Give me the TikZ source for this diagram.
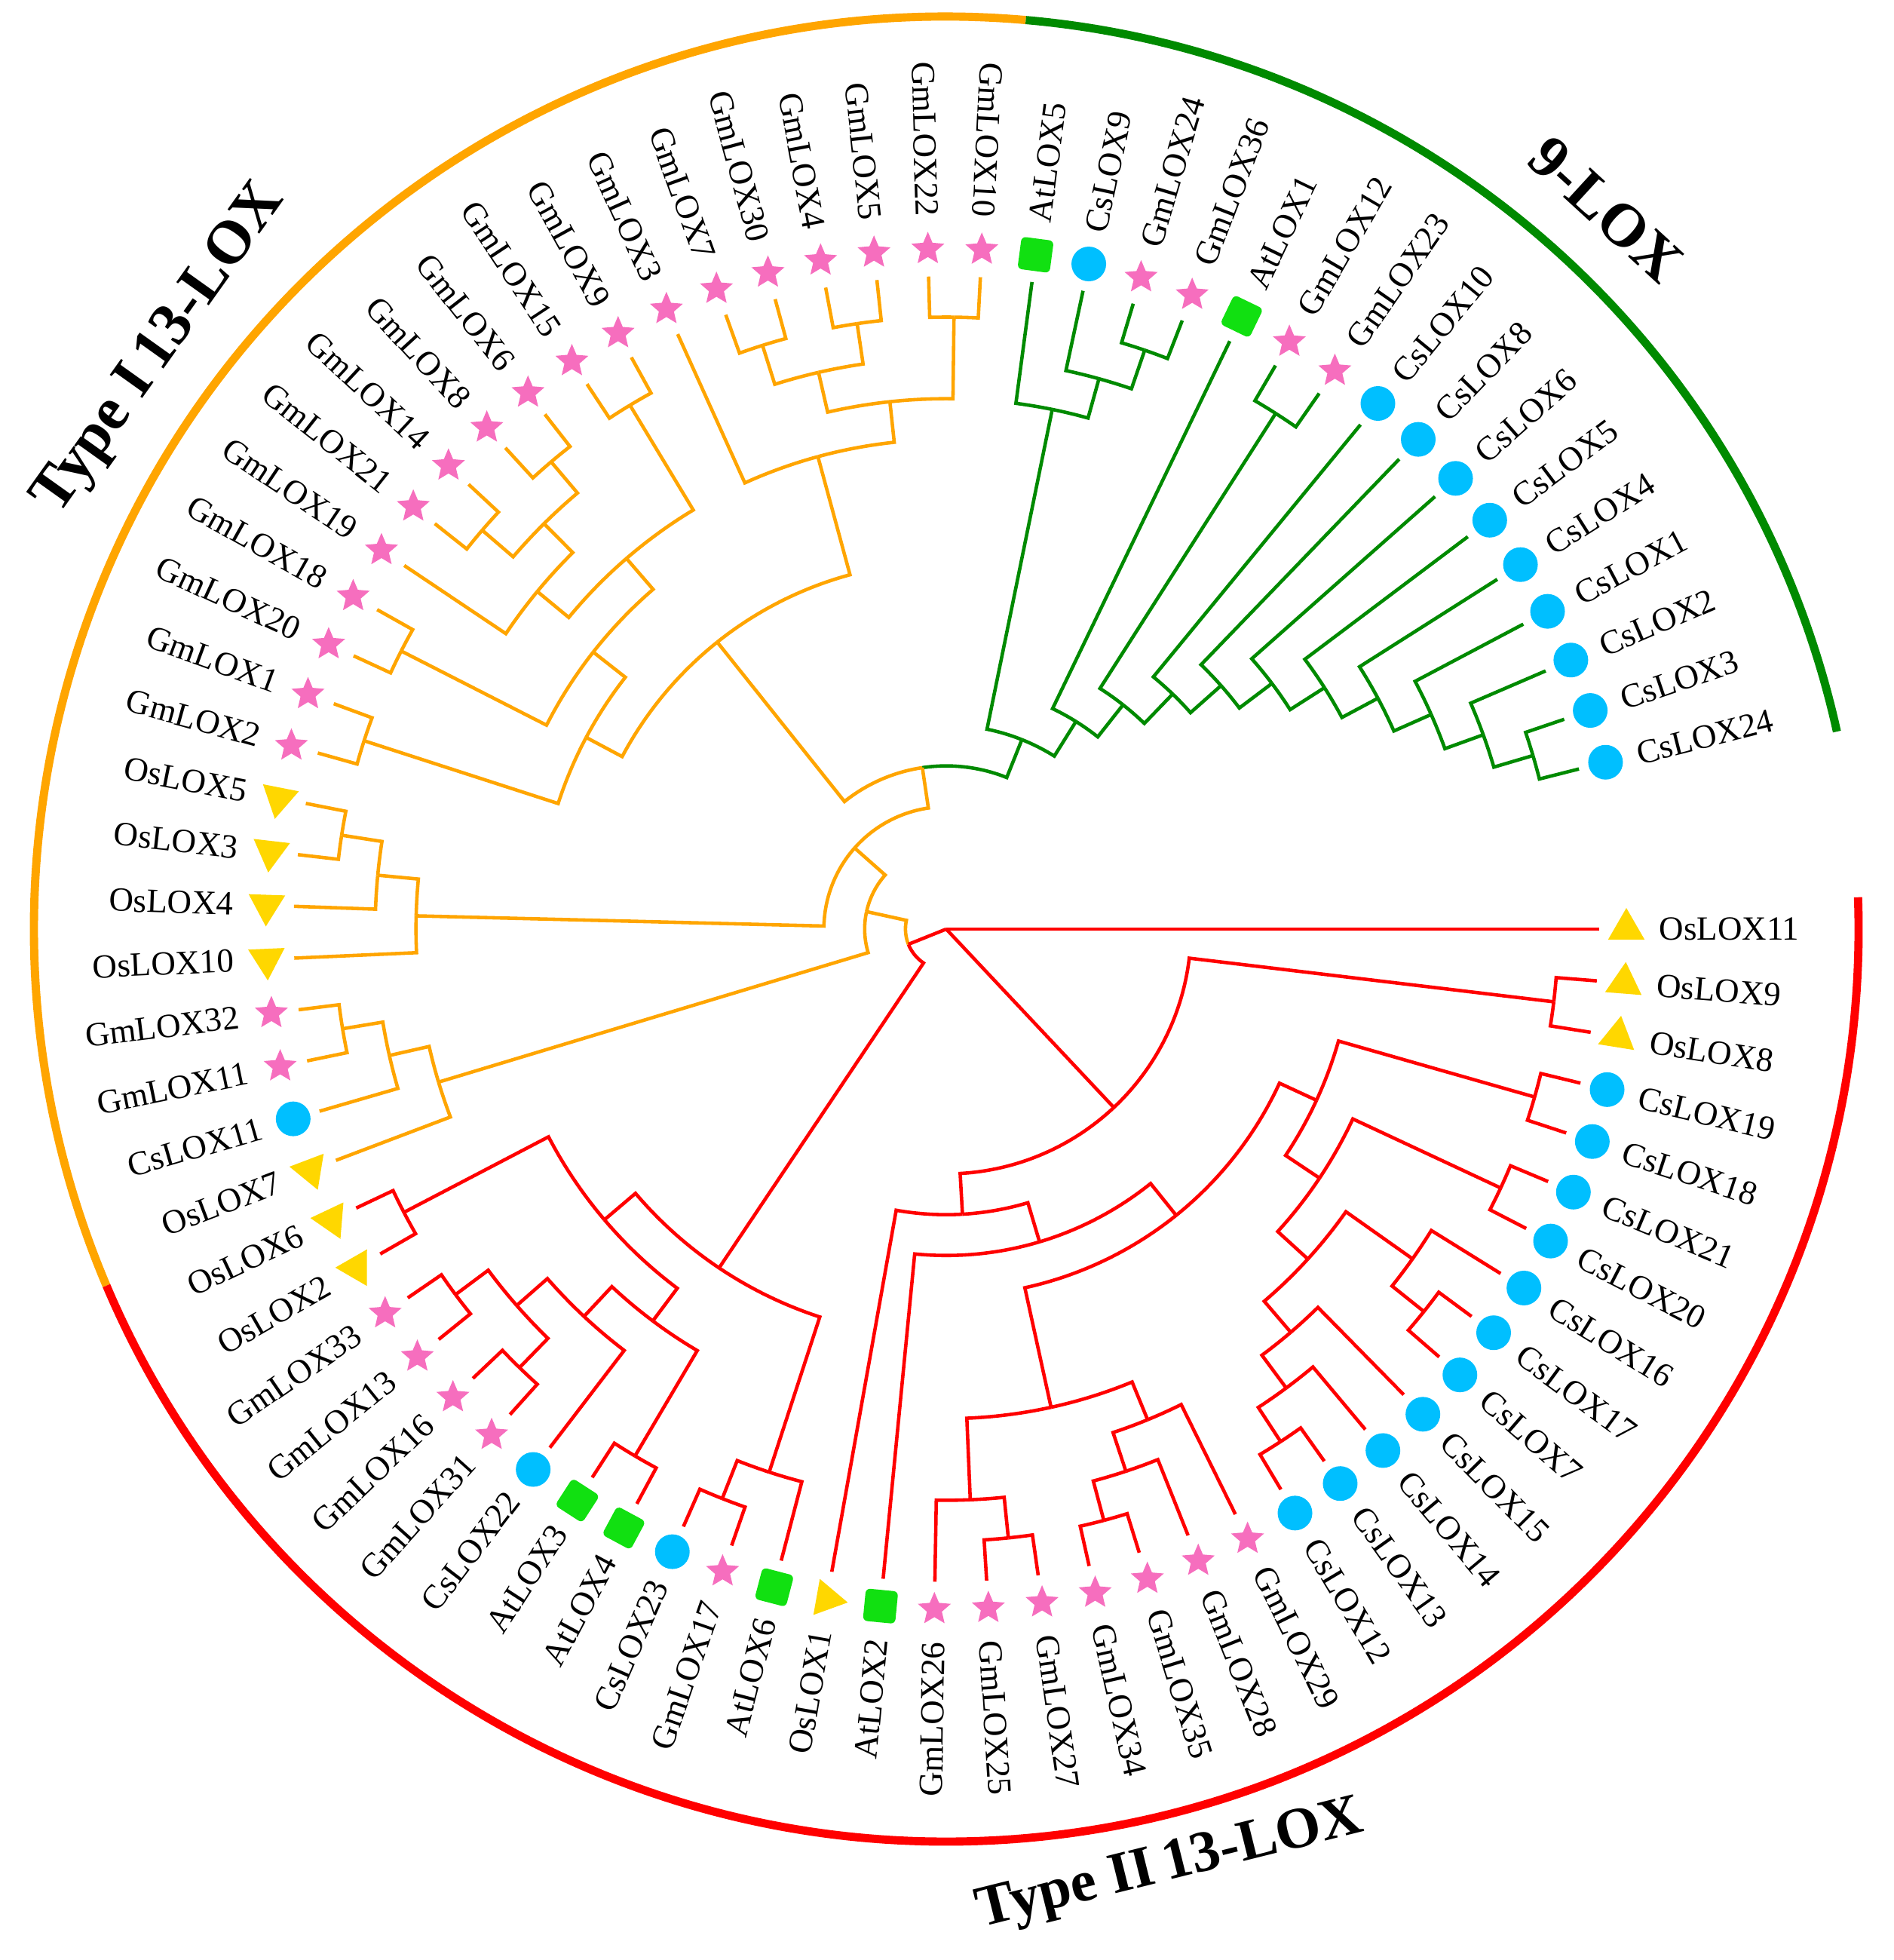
\documentclass[tikz,border=0pt]{standalone}
\usepackage{fontspec}
\setmainfont{Liberation Serif}
\usetikzlibrary{shapes.geometric}
\definecolor{cOr}{HTML}{FFA500}
\definecolor{cGr}{HTML}{008A00}
\definecolor{cRd}{HTML}{FF0000}
\definecolor{mStar}{HTML}{F66EBE}
\definecolor{mCirc}{HTML}{00BFFF}
\definecolor{mSq}{HTML}{11E011}
\definecolor{mTri}{HTML}{FFD700}
\newcommand\dAng{4.55}
\newcommand\uStep{0.541}
% leaf: index, name, marker type
\newcommand\lf[3]{%
  \expandafter\xdef\csname TA-#2\endcsname{#1}%
  \expandafter\xdef\csname TL-#2\endcsname{16}%
  \pgfmathsetmacro\tkang{-\dAng*#1}%
  \node[mk#3=\tkang] (m-#2) at (\tkang:9.02cm) {};
  \ifnum#1<20 \node[lblR, rotate=\tkang] (#2) at (\tkang:9.45cm) {#2};%
  \else\ifnum#1>60 \node[lblR, rotate=\tkang] (#2) at (\tkang:9.45cm) {#2};%
  \else \node[lblL, rotate=\tkang+180] (#2) at (\tkang:9.45cm) {#2};%
  \fi\fi
}
% clade: name, child1, child2, colour of child1 half, colour of child2 half
\newcommand\clade[5]{%
  \edef\tkca{\csname TA-#2\endcsname}%
  \edef\tkcb{\csname TA-#3\endcsname}%
  \edef\tkla{\csname TL-#2\endcsname}%
  \edef\tklb{\csname TL-#3\endcsname}%
  \pgfmathsetmacro\tkln{min(\tkla,\tklb)-1}%
  \pgfmathsetmacro\tkan{(\tkca+\tkcb)/2}%
  \expandafter\xdef\csname TA-#1\endcsname{\tkan}%
  \expandafter\xdef\csname TL-#1\endcsname{\tkln}%
  \pgfmathsetmacro\tkta{-\dAng*\tkca}%
  \pgfmathsetmacro\tktb{-\dAng*\tkcb}%
  \pgfmathsetmacro\tktn{-\dAng*\tkan}%
  \pgfmathsetmacro\tkra{\tkla*\uStep}%
  \pgfmathsetmacro\tkrb{\tklb*\uStep}%
  \pgfmathsetmacro\tkrn{\tkln*\uStep}%
  \coordinate (#1) at (\tktn:\tkrn cm);
  \draw[branch,#4] (\tkta:\tkra cm) -- (\tkta:\tkrn cm) arc[start angle=\tkta, end angle=\tktn, radius=\tkrn cm];
  \draw[branch,#5] (#1) arc[start angle=\tktn, end angle=\tktb, radius=\tkrn cm] -- (\tktb:\tkrb cm);
}
\begin{document}
\begin{tikzpicture}[
  branch/.style={line width=1.3pt, line join=miter},
  lblR/.style={anchor=west, inner sep=0pt, font=\fontsize{12.8}{14}\selectfont},
  lblL/.style={anchor=east, inner sep=0pt, font=\fontsize{12.8}{14}\selectfont},
  mkS/.style={star, star points=5, star point ratio=2.2, minimum size=0.46cm, inner sep=0pt, fill=mStar, draw=none},
  mkC/.style={circle, minimum size=0.46cm, inner sep=0pt, fill=mCirc, draw=none},
  mkQ/.style={rectangle, rounded corners=0.06cm, minimum size=0.43cm, inner sep=0pt, fill=mSq, draw=none, rotate=#1},
  mkT/.style={regular polygon, regular polygon sides=3, minimum size=0.56cm, inner sep=0pt, fill=mTri, draw=none, rotate=#1},
  groupline/.style={line width=3.1pt},
  title/.style={font=\fontsize{23}{27}\selectfont\bfseries, inner sep=0pt}
]
\useasboundingbox (-12.55,-13.67) rectangle (12.56,12.32);

% outer group arcs
\draw[groupline, cOr] (85:12.1cm) arc[start angle=85, end angle=203, radius=12.1cm];
\draw[groupline, cGr] (85:12.1cm) arc[start angle=85, end angle=12.5, radius=12.1cm];
\draw[groupline, cRd] (2:12.1cm) arc[start angle=2, end angle=-157, radius=12.1cm];

% group titles
\node[title, rotate=54.5] (tI) at (-10.42,7.68) {Type I\,13-LOX};
\node[title, rotate=-42.5] (t9) at (8.75,9.54) {9-LOX};
\node[title, rotate=14, font=\fontsize{22}{26}\selectfont\bfseries] (tII) at (2.97,-12.43) {Type II\,13-LOX};

% leaves
\lf{0}{OsLOX11}{T}
\lf{1}{OsLOX9}{T}
\lf{2}{OsLOX8}{T}
\lf{3}{CsLOX19}{C}
\lf{4}{CsLOX18}{C}
\lf{5}{CsLOX21}{C}
\lf{6}{CsLOX20}{C}
\lf{7}{CsLOX16}{C}
\lf{8}{CsLOX17}{C}
\lf{9}{CsLOX7}{C}
\lf{10}{CsLOX15}{C}
\lf{11}{CsLOX14}{C}
\lf{12}{CsLOX13}{C}
\lf{13}{CsLOX12}{C}
\lf{14}{GmLOX29}{S}
\lf{15}{GmLOX28}{S}
\lf{16}{GmLOX35}{S}
\lf{17}{GmLOX34}{S}
\lf{18}{GmLOX27}{S}
\lf{19}{GmLOX25}{S}
\lf{20}{GmLOX26}{S}
\lf{21}{AtLOX2}{Q}
\lf{22}{OsLOX1}{T}
\lf{23}{AtLOX6}{Q}
\lf{24}{GmLOX17}{S}
\lf{25}{CsLOX23}{C}
\lf{26}{AtLOX4}{Q}
\lf{27}{AtLOX3}{Q}
\lf{28}{CsLOX22}{C}
\lf{29}{GmLOX31}{S}
\lf{30}{GmLOX16}{S}
\lf{31}{GmLOX13}{S}
\lf{32}{GmLOX33}{S}
\lf{33}{OsLOX2}{T}
\lf{34}{OsLOX6}{T}
\lf{35}{OsLOX7}{T}
\lf{36}{CsLOX11}{C}
\lf{37}{GmLOX11}{S}
\lf{38}{GmLOX32}{S}
\lf{39}{OsLOX10}{T}
\lf{40}{OsLOX4}{T}
\lf{41}{OsLOX3}{T}
\lf{42}{OsLOX5}{T}
\lf{43}{GmLOX2}{S}
\lf{44}{GmLOX1}{S}
\lf{45}{GmLOX20}{S}
\lf{46}{GmLOX18}{S}
\lf{47}{GmLOX19}{S}
\lf{48}{GmLOX21}{S}
\lf{49}{GmLOX14}{S}
\lf{50}{GmLOX8}{S}
\lf{51}{GmLOX6}{S}
\lf{52}{GmLOX15}{S}
\lf{53}{GmLOX9}{S}
\lf{54}{GmLOX3}{S}
\lf{55}{GmLOX7}{S}
\lf{56}{GmLOX30}{S}
\lf{57}{GmLOX4}{S}
\lf{58}{GmLOX5}{S}
\lf{59}{GmLOX22}{S}
\lf{60}{GmLOX10}{S}
\lf{61}{AtLOX5}{Q}
\lf{62}{CsLOX9}{C}
\lf{63}{GmLOX24}{S}
\lf{64}{GmLOX36}{S}
\lf{65}{AtLOX1}{Q}
\lf{66}{GmLOX12}{S}
\lf{67}{GmLOX23}{S}
\lf{68}{CsLOX10}{C}
\lf{69}{CsLOX8}{C}
\lf{70}{CsLOX6}{C}
\lf{71}{CsLOX5}{C}
\lf{72}{CsLOX4}{C}
\lf{73}{CsLOX1}{C}
\lf{74}{CsLOX2}{C}
\lf{75}{CsLOX3}{C}
\lf{76}{CsLOX24}{C}

% ---- Type II (red) ----
\clade{Z1}{OsLOX9}{OsLOX8}{cRd}{cRd}
\clade{C1}{CsLOX19}{CsLOX18}{cRd}{cRd}
\clade{C4}{CsLOX21}{CsLOX20}{cRd}{cRd}
\clade{C6}{CsLOX17}{CsLOX7}{cRd}{cRd}
\clade{C7}{CsLOX16}{C6}{cRd}{cRd}
\clade{C11}{CsLOX13}{CsLOX12}{cRd}{cRd}
\clade{C10}{CsLOX14}{C11}{cRd}{cRd}
\clade{C9}{CsLOX15}{C10}{cRd}{cRd}
\clade{C8}{C7}{C9}{cRd}{cRd}
\clade{C3}{C4}{C8}{cRd}{cRd}
\clade{C2}{C1}{C3}{cRd}{cRd}
\clade{X1}{GmLOX35}{GmLOX34}{cRd}{cRd}
\clade{Xg}{GmLOX28}{X1}{cRd}{cRd}
\clade{GG4}{GmLOX29}{Xg}{cRd}{cRd}
\clade{GG1}{GmLOX27}{GmLOX25}{cRd}{cRd}
\clade{GG2}{GG1}{GmLOX26}{cRd}{cRd}
\clade{GG3}{GG4}{GG2}{cRd}{cRd}
\clade{Z4}{C2}{GG3}{cRd}{cRd}
\clade{Z3}{Z4}{AtLOX2}{cRd}{cRd}
\clade{Z2}{Z3}{OsLOX1}{cRd}{cRd}
\clade{Z}{Z1}{Z2}{cRd}{cRd}
\clade{W3}{GmLOX17}{CsLOX23}{cRd}{cRd}
\clade{W2}{AtLOX6}{W3}{cRd}{cRd}
\clade{T1}{AtLOX4}{AtLOX3}{cRd}{cRd}
\clade{U2}{GmLOX31}{GmLOX16}{cRd}{cRd}
\clade{U1}{GmLOX13}{GmLOX33}{cRd}{cRd}
\clade{U3}{U2}{U1}{cRd}{cRd}
\clade{U4}{CsLOX22}{U3}{cRd}{cRd}
\clade{V2}{T1}{U4}{cRd}{cRd}
\clade{V1}{OsLOX2}{OsLOX6}{cRd}{cRd}
\clade{W1}{V2}{V1}{cRd}{cRd}
\clade{W}{W2}{W1}{cRd}{cRd}

% ---- Type I (orange) ----
\clade{S4}{GmLOX11}{GmLOX32}{cOr}{cOr}
\clade{S5}{CsLOX11}{S4}{cOr}{cOr}
\clade{S6}{OsLOX7}{S5}{cOr}{cOr}
\clade{S1}{OsLOX3}{OsLOX5}{cOr}{cOr}
\clade{S2}{OsLOX4}{S1}{cOr}{cOr}
\clade{S3}{OsLOX10}{S2}{cOr}{cOr}
\clade{R6}{GmLOX2}{GmLOX1}{cOr}{cOr}
\clade{R5}{GmLOX20}{GmLOX18}{cOr}{cOr}
\clade{R2}{GmLOX21}{GmLOX14}{cOr}{cOr}
\clade{R1}{GmLOX8}{GmLOX6}{cOr}{cOr}
\clade{R3}{R2}{R1}{cOr}{cOr}
\clade{R4}{GmLOX19}{R3}{cOr}{cOr}
\clade{Q1}{GmLOX15}{GmLOX9}{cOr}{cOr}
\clade{Q2}{R4}{Q1}{cOr}{cOr}
\clade{Yp}{R5}{Q2}{cOr}{cOr}
\clade{Xo}{R6}{Yp}{cOr}{cOr}
\clade{O3}{GmLOX7}{GmLOX30}{cOr}{cOr}
\clade{O2}{GmLOX4}{GmLOX5}{cOr}{cOr}
\clade{O1}{GmLOX22}{GmLOX10}{cOr}{cOr}
\clade{O4}{O3}{O2}{cOr}{cOr}
\clade{O5}{O4}{O1}{cOr}{cOr}
\clade{O6}{GmLOX3}{O5}{cOr}{cOr}
\clade{O7}{Xo}{O6}{cOr}{cOr}

% ---- 9-LOX (green) ----
\clade{G3}{GmLOX24}{GmLOX36}{cGr}{cGr}
\clade{G2}{CsLOX9}{G3}{cGr}{cGr}
\clade{G1}{AtLOX5}{G2}{cGr}{cGr}
\clade{G15}{CsLOX3}{CsLOX24}{cGr}{cGr}
\clade{G14}{CsLOX2}{G15}{cGr}{cGr}
\clade{G13}{CsLOX1}{G14}{cGr}{cGr}
\clade{G12}{CsLOX4}{G13}{cGr}{cGr}
\clade{G11}{CsLOX5}{G12}{cGr}{cGr}
\clade{G10}{CsLOX6}{G11}{cGr}{cGr}
\clade{G9}{CsLOX8}{G10}{cGr}{cGr}
\clade{G8}{CsLOX10}{G9}{cGr}{cGr}
\clade{G7}{GmLOX12}{GmLOX23}{cGr}{cGr}
\clade{G6}{G7}{G8}{cGr}{cGr}
\clade{G5}{AtLOX1}{G6}{cGr}{cGr}
\clade{G4}{G1}{G5}{cGr}{cGr}

% ---- backbone ----
\clade{OG}{O7}{G4}{cOr}{cGr}
\clade{L3}{S3}{OG}{cOr}{cOr}
\clade{L2}{S6}{L3}{cOr}{cOr}
\clade{Y}{W}{L2}{cRd}{cOr}

% root (trifurcation at the centre)
\coordinate (root) at (0,0);
\pgfmathsetmacro\angZ{-\dAng*\csname TA-Z\endcsname}
\pgfmathsetmacro\radZ{\csname TL-Z\endcsname*\uStep}
\pgfmathsetmacro\angY{-\dAng*\csname TA-Y\endcsname}
\pgfmathsetmacro\radY{\csname TL-Y\endcsname*\uStep}
\draw[branch,cRd] (root) -- (0:16*\uStep cm);
\draw[branch,cRd] (root) -- (\angZ:\radZ cm);
\draw[branch,cRd] (root) -- (\angY:\radY cm);
\end{tikzpicture}
\end{document}
